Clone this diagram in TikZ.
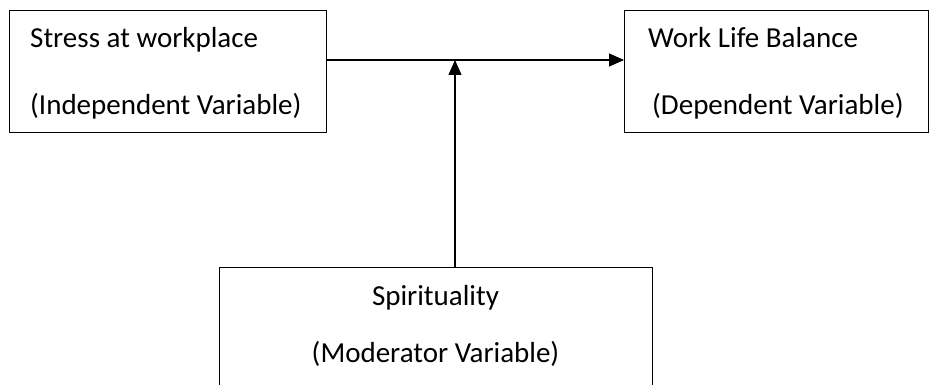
\documentclass[tikz,border=0pt]{standalone}
\usepackage{fontspec}
\setmainfont{Carlito}
\usetikzlibrary{positioning, arrows.meta}
\tikzset{%
    % Boxes of the research model
    varbox/.style   = {draw, line width=1.2pt, rectangle, anchor=north west,
    inner sep=0pt},
    % Text lines inside the boxes
    varname/.style  = {inner sep=0pt, font=\fontsize{29}{35}\selectfont},
    % Connectors
    link/.style     = {line width=1.2pt, -{Triangle[length=15pt,width=13pt]}}
}
\begin{document}
\begin{tikzpicture}[x=1pt, y=-1pt]
	\useasboundingbox (0,0) rectangle (931,385);
	\node[varbox, minimum width=317pt, minimum height=122pt] (stress) at (9,10) {};
	\node[varbox, minimum width=304pt, minimum height=122pt] (wlb) at (624,10) {};
	\node[varbox, minimum width=433pt, minimum height=126pt] (spirit) at (219,267) {};
	\coordinate (junc) at (455,60);
	
	\node[varname, anchor=base west] (stressname) at (30,48) {Stress at workplace};
	\node[varname, anchor=base west] (stresstype) at (30,115) {(Independent Variable)};
	\node[varname, anchor=base west] (wlbname) at (648,48) {Work Life Balance};
	\node[varname, anchor=base west] (wlbtype) at (652,115) {(Dependent Variable)};
	\node[varname, anchor=base] (spiritname) at (435.5,305) {Spirituality};
	\node[varname, anchor=base] (spirittype) at (435.5,362) {(Moderator Variable)};
	
	\draw[link] (stress.east |- junc) -- (wlb.west |- junc);
	\draw[link] (spirit.north -| junc) -- (junc);
\end{tikzpicture}
\end{document}
